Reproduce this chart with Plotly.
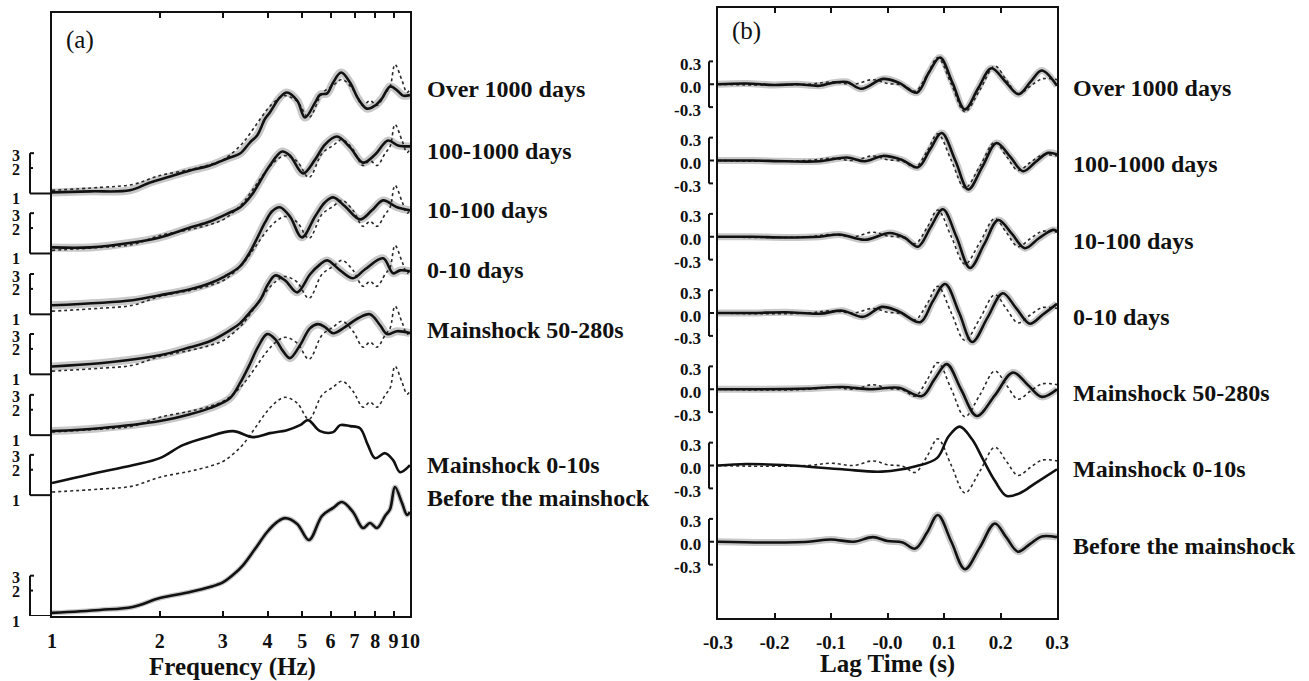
import math
import plotly.graph_objects as go

W, H = 1309, 681

LABELS = ["Over 1000 days", "100-1000 days", "10-100 days", "0-10 days",
          "Mainshock 50-280s", "Mainshock 0-10s", "Before the mainshock"]

# ---------------- Panel (a): spectral ratios (frequency in Hz, amplitude) ----------------
FREQ_OVER_1000 = [1.00, 1.28, 1.65, 1.88, 2.14, 2.43, 2.76, 3.14, 3.35, 3.57, 3.74, 3.94, 4.06, 4.33, 4.53,
                  4.84, 5.09, 5.43, 5.61, 5.87, 6.10, 6.42, 6.80, 7.16, 7.58, 7.99, 8.35, 8.80, 9.20, 9.56, 10.0]
AMP_OVER_1000 = [1.03, 1.06, 1.09, 1.35, 1.59, 1.87, 2.14, 2.67, 2.97, 4.01, 4.86, 7.72, 9.09, 13.7, 15.7,
                 12.6, 7.93, 11.9, 14.8, 15.3, 20.6, 27.0, 20.6, 13.3, 10.1, 11.0, 13.3, 18.5, 16.6, 14.4, 14.6]

FREQ_100_1000 = [1.00, 1.28, 1.68, 2.00, 2.43, 2.76, 3.14, 3.35, 3.62, 3.81, 4.06, 4.39, 4.62, 5.03, 5.43,
                 5.79, 6.25, 6.80, 7.39, 7.99, 8.68, 9.26, 10.0]
AMP_100_1000 = [1.18, 1.18, 1.35, 1.55, 2.03, 2.39, 3.06, 3.50, 4.99, 7.11, 11.0, 16.1, 14.4, 8.85, 12.9,
                19.5, 24.2, 18.0, 11.9, 14.8, 21.7, 19.0, 18.5]

FREQ_10_100 = [1.00, 1.68, 2.00, 2.43, 2.76, 3.04, 3.35, 3.57, 3.74, 3.94, 4.12, 4.33, 4.62, 4.99, 5.43,
               5.79, 6.10, 6.58, 7.25, 7.83, 8.41, 9.20, 10.0]
AMP_10_100 = [1.28, 1.47, 1.68, 1.98, 2.33, 2.82, 3.70, 5.42, 7.93, 12.3, 16.6, 18.5, 14.4, 8.15, 14.4,
              21.2, 24.2, 19.0, 13.3, 17.0, 22.3, 18.5, 17.0]

FREQ_0_10 = [1.00, 1.36, 2.00, 2.43, 2.76, 3.14, 3.35, 3.57, 3.81, 4.01, 4.20, 4.48, 4.84, 5.26, 5.61,
             5.87, 6.38, 6.93, 7.49, 8.41, 8.97, 9.38, 10.0]
AMP_0_10 = [1.24, 1.35, 1.68, 2.09, 2.46, 3.32, 4.01, 5.42, 7.51, 11.6, 14.8, 12.9, 9.34, 15.3, 20.0,
            22.3, 17.0, 13.7, 17.5, 23.6, 15.7, 17.0, 16.6]

FREQ_MS_50_280 = [1.00, 1.36, 2.00, 2.43, 2.76, 3.14, 3.35, 3.57, 3.76, 3.99, 4.20, 4.42, 4.62, 4.93, 5.26,
                  5.53, 5.79, 6.10, 6.58, 7.16, 7.73, 8.25, 8.63, 9.20, 10.0]
AMP_MS_50_280 = [1.12, 1.21, 1.47, 1.77, 2.09, 2.74, 4.12, 6.94, 11.0, 15.7, 13.7, 9.86, 8.15, 11.6, 18.5,
                 20.6, 19.0, 16.1, 19.0, 24.2, 27.0, 20.0, 15.7, 17.0, 16.1]

FREQ_MS_0_10 = [1.00, 1.28, 1.68, 2.00, 2.32, 2.71, 3.20, 3.64, 4.06, 4.53, 4.93, 5.19, 5.61, 6.10, 6.38,
                6.80, 7.25, 7.63, 7.99, 8.52, 8.97, 9.38, 10.0]
AMP_MS_0_10 = [1.39, 1.77, 2.26, 2.74, 3.91, 4.86, 5.72, 4.86, 5.42, 5.88, 6.74, 7.72, 5.72, 5.57, 6.74,
               6.56, 6.21, 3.91, 2.74, 3.14, 2.60, 1.87, 2.26]

FREQ_BEFORE = [1.00, 1.36, 1.68, 2.00, 2.43, 2.76, 3.00, 3.20, 3.42, 3.69, 3.99, 4.25, 4.48, 4.84, 5.22,
               5.68, 6.10, 6.46, 6.93, 7.39, 7.73, 8.09, 8.52, 8.80, 9.08, 9.50, 9.81, 10.0]
AMP_BEFORE = [1.09, 1.18, 1.28, 1.63, 1.92, 2.20, 2.50, 3.05, 4.01, 6.21, 9.86, 12.9, 14.4, 12.3, 7.93,
              15.3, 19.0, 22.3, 17.0, 11.0, 12.6, 11.0, 15.3, 18.5, 33.6, 21.7, 15.7, 17.0]

FREQ_TICKS = [1, 2, 3, 4, 5, 6, 7, 8, 9, 10]
AMP_SCALE_TICKS = [1, 2, 3]

# ---------------- Panel (b): cross-correlation waveforms (lag time s, amplitude) ----------------
LAG_OVER_1000 = [-0.30, -0.25, -0.20, -0.16, -0.12, -0.096, -0.072, -0.046, -0.008, 0.02, 0.052, 0.073,
                 0.093, 0.115, 0.137, 0.16, 0.184, 0.208, 0.232, 0.253, 0.273, 0.30]
WAVE_OVER_1000 = [0.00, 0.01, -0.01, 0.00, -0.02, 0.02, 0.03, -0.06, 0.07, 0.02, -0.11, 0.15,
                  0.35, 0.02, -0.33, -0.06, 0.21, 0.04, -0.13, 0.03, 0.18, -0.02]

LAG_100_1000 = [-0.30, -0.24, -0.18, -0.12, -0.072, -0.04, -0.008, 0.025, 0.054, 0.075, 0.096, 0.12,
                0.143, 0.168, 0.193, 0.217, 0.240, 0.262, 0.284, 0.30]
WAVE_100_1000 = [0.00, 0.00, -0.01, -0.01, 0.04, -0.01, 0.06, 0.01, -0.09, 0.14, 0.36, 0.00,
                 -0.38, -0.08, 0.23, 0.05, -0.14, -0.02, 0.10, 0.08]

LAG_10_100 = [-0.30, -0.24, -0.18, -0.12, -0.085, -0.04, 0.004, 0.03, 0.054, 0.076, 0.098, 0.122,
              0.146, 0.171, 0.196, 0.22, 0.243, 0.268, 0.293, 0.30]
WAVE_10_100 = [0.00, 0.00, -0.01, 0.00, 0.03, -0.04, 0.05, -0.01, -0.13, 0.12, 0.36, 0.00,
               -0.41, -0.10, 0.22, 0.04, -0.15, -0.02, 0.09, 0.07]

LAG_0_10 = [-0.30, -0.24, -0.18, -0.12, -0.08, -0.043, -0.01, 0.02, 0.058, 0.08, 0.102, 0.127,
            0.150, 0.177, 0.204, 0.228, 0.252, 0.275, 0.30]
WAVE_0_10 = [0.00, 0.00, 0.01, -0.01, 0.03, -0.05, 0.08, 0.02, -0.12, 0.15, 0.38, 0.00,
             -0.38, -0.06, 0.26, 0.06, -0.14, -0.02, 0.12]

LAG_MS_50_280 = [-0.30, -0.22, -0.14, -0.08, -0.03, 0.02, 0.061, 0.083, 0.105, 0.13, 0.158, 0.19,
                 0.222, 0.248, 0.273, 0.30]
WAVE_MS_50_280 = [0.00, 0.00, 0.01, 0.03, 0.00, 0.02, -0.09, 0.13, 0.33, 0.00, -0.35, -0.08,
                  0.22, 0.06, -0.10, 0.00]

LAG_MS_0_10 = [-0.30, -0.25, -0.17, -0.08, -0.01, 0.05, 0.088, 0.108, 0.128, 0.15, 0.169, 0.19,
               0.211, 0.235, 0.26, 0.30]
WAVE_MS_0_10 = [0.00, 0.02, 0.00, -0.05, -0.08, -0.01, 0.10, 0.38, 0.51, 0.34, 0.08, -0.20,
                -0.40, -0.36, -0.24, -0.05]

LAG_BEFORE = [-0.30, -0.22, -0.14, -0.10, -0.06, -0.026, 0.0, 0.027, 0.049, 0.07, 0.089, 0.113,
              0.137, 0.163, 0.190, 0.21, 0.231, 0.252, 0.273, 0.30]
WAVE_BEFORE = [0.00, -0.01, 0.00, 0.03, 0.00, 0.06, 0.01, -0.01, -0.09, 0.12, 0.35, 0.00,
               -0.36, -0.08, 0.24, 0.06, -0.13, -0.03, 0.07, 0.06]

LAG_TICKS = [-0.3, -0.2, -0.1, 0.0, 0.1, 0.2, 0.3]
LAG_TICK_TEXT = ["-0.3", "-0.2", "-0.1", "-0.0", "0.1", "0.2", "0.3"]
WAVE_SCALE_TICKS = [0.3, 0.0, -0.3]
WAVE_SCALE_TEXT = ["0.3", "0.0", "-0.3"]

SPECTRA = [(FREQ_OVER_1000, AMP_OVER_1000), (FREQ_100_1000, AMP_100_1000), (FREQ_10_100, AMP_10_100),
           (FREQ_0_10, AMP_0_10), (FREQ_MS_50_280, AMP_MS_50_280), (FREQ_MS_0_10, AMP_MS_0_10),
           (FREQ_BEFORE, AMP_BEFORE)]
WAVES = [(LAG_OVER_1000, WAVE_OVER_1000), (LAG_100_1000, WAVE_100_1000), (LAG_10_100, WAVE_10_100),
         (LAG_0_10, WAVE_0_10), (LAG_MS_50_280, WAVE_MS_50_280), (LAG_MS_0_10, WAVE_MS_0_10),
         (LAG_BEFORE, WAVE_BEFORE)]

# ---------------- layout constants ----------------
OFFSET_A = [5.0, 4.29, 3.57, 2.86, 2.14, 1.43, 0.0]   # stacking offsets (decades)
OFFSET_B = [7, 6, 5, 4, 3, 2, 1]                     # stacking offsets (units)
GRAY_A = [True, True, True, True, True, False, True]
GRAY_B = [True, True, True, True, True, False, True]

FONT = "Liberation Serif"
BLACK = "#111111"
GRAY = "#c8c8c8"
DOT = "#2a2a2a"


def px(x):
    return x / W


def py(y):
    return 1 - y / H


fig = go.Figure()

# panel (a) traces
for layer in ("gray", "dot", "solid"):
    for i, (f, a) in enumerate(SPECTRA):
        scale = 10 ** OFFSET_A[i]
        if layer == "gray" and GRAY_A[i]:
            fig.add_trace(go.Scatter(x=f, y=[v * scale for v in a], mode="lines", xaxis="x", yaxis="y",
                                     line=dict(color=GRAY, width=8 if i < 6 else 5, shape="spline"),
                                     hoverinfo="skip", showlegend=False))
        elif layer == "dot" and i < 6:
            fig.add_trace(go.Scatter(x=FREQ_BEFORE, y=[v * scale for v in AMP_BEFORE], mode="lines",
                                     xaxis="x", yaxis="y",
                                     line=dict(color=DOT, width=1.6, dash="dot", shape="spline"),
                                     hoverinfo="skip", showlegend=False))
        elif layer == "solid":
            fig.add_trace(go.Scatter(x=f, y=[v * scale for v in a], mode="lines", xaxis="x", yaxis="y",
                                     line=dict(color=BLACK, width=2.6, shape="spline"),
                                     name=LABELS[i], showlegend=False))

# panel (b) traces
for layer in ("gray", "dot", "solid"):
    for i, (t, a) in enumerate(WAVES):
        off = OFFSET_B[i]
        if layer == "gray" and GRAY_B[i]:
            fig.add_trace(go.Scatter(x=t, y=[v + off for v in a], mode="lines", xaxis="x2", yaxis="y2",
                                     line=dict(color=GRAY, width=7, shape="spline"),
                                     hoverinfo="skip", showlegend=False))
        elif layer == "dot" and i < 6:
            fig.add_trace(go.Scatter(x=LAG_BEFORE, y=[v + off for v in WAVE_BEFORE], mode="lines",
                                     xaxis="x2", yaxis="y2",
                                     line=dict(color=DOT, width=1.6, dash="dot", shape="spline"),
                                     hoverinfo="skip", showlegend=False))
        elif layer == "solid":
            fig.add_trace(go.Scatter(x=t, y=[v + off for v in a], mode="lines", xaxis="x2", yaxis="y2",
                                     line=dict(color=BLACK, width=2.6, shape="spline"),
                                     name=LABELS[i], showlegend=False))

shapes = []
annotations = []
line_style = dict(color=BLACK, width=2)

# scale bars, panel (a)  (shape coordinates are data values on the log axis)
for off in OFFSET_A:
    s = 10 ** off
    y1, y2, y3 = 1 * s, 2 * s, 3 * s
    shapes += [
        dict(type="line", xref="paper", yref="y", x0=px(30), x1=px(30), y0=y1, y1=y3, line=line_style),
        dict(type="line", xref="paper", yref="y", x0=px(30), x1=px(34), y0=y3, y1=y3, line=line_style),
        dict(type="line", xref="paper", yref="y", x0=px(30), x1=px(33), y0=y2, y1=y2, line=line_style),
        dict(type="line", xref="paper", yref="y", x0=px(30), x1=px(52), y0=y1, y1=y1, line=line_style),
    ]
    for v, ys in zip(AMP_SCALE_TICKS, [-5, -1, -2]):
        annotations.append(dict(xref="paper", yref="y", x=px(16), y=off + math.log10(v), text=str(v),
                                showarrow=False, xanchor="center", yanchor="middle", yshift=ys,
                                font=dict(family=FONT, size=16, color=BLACK, weight="bold")))

# scale bars, panel (b)
for off in OFFSET_B:
    shapes += [
        dict(type="line", xref="paper", yref="y2", x0=px(709), x1=px(709), y0=off - 0.3, y1=off + 0.3, line=line_style),
        dict(type="line", xref="paper", yref="y2", x0=px(709), x1=px(713), y0=off + 0.3, y1=off + 0.3, line=line_style),
        dict(type="line", xref="paper", yref="y2", x0=px(709), x1=px(713), y0=off - 0.3, y1=off - 0.3, line=line_style),
        dict(type="line", xref="paper", yref="y2", x0=px(709), x1=px(714), y0=off, y1=off, line=line_style),
    ]
    for v, txt in zip(WAVE_SCALE_TICKS, WAVE_SCALE_TEXT):
        annotations.append(dict(xref="paper", yref="y2", x=px(703), y=off + v, text=txt,
                                showarrow=False, xanchor="right", yanchor="middle", yshift=-3,
                                font=dict(family=FONT, size=17, color=BLACK, weight="bold")))

# right-hand labels
LABEL_Y_A = [89, 151, 210, 270, 330, 465, 498]
LABEL_Y_B = [88, 164, 241, 317, 393, 469, 546]
for lab, ya, yb in zip(LABELS, LABEL_Y_A, LABEL_Y_B):
    for xx, yy in ((425, ya), (1071, yb)):
        annotations.append(dict(xref="paper", yref="paper", x=px(xx), y=py(yy), text=lab, showarrow=False,
                                xanchor="left", yanchor="middle",
                                font=dict(family=FONT, size=24, color=BLACK, weight="bold")))

# panel tags and axis titles
annotations += [
    dict(xref="paper", yref="paper", x=px(80), y=py(40), text="(a)", showarrow=False,
         xanchor="center", yanchor="middle", font=dict(family=FONT, size=25, color=BLACK)),
    dict(xref="paper", yref="paper", x=px(746), y=py(31), text="(b)", showarrow=False,
         xanchor="center", yanchor="middle", font=dict(family=FONT, size=25, color=BLACK)),
    dict(xref="paper", yref="paper", x=px(232), y=py(667), text="Frequency (Hz)", showarrow=False,
         xanchor="center", yanchor="middle", font=dict(family=FONT, size=25, color=BLACK, weight="bold")),
    dict(xref="paper", yref="paper", x=px(887), y=py(664), text="Lag Time (s)", showarrow=False,
         xanchor="center", yanchor="middle", font=dict(family=FONT, size=25, color=BLACK, weight="bold")),
]

axis_common = dict(showgrid=False, zeroline=False, showline=True, linecolor=BLACK, linewidth=2,
                   automargin=False)

fig.update_layout(
    width=W, height=H,
    margin=dict(l=0, r=0, t=0, b=0),
    paper_bgcolor="white", plot_bgcolor="white",
    showlegend=False,
    xaxis=dict(domain=[px(52), px(410)], type="log", range=[0, 1], anchor="y",
               tickvals=FREQ_TICKS, ticktext=[str(v) for v in FREQ_TICKS], tickangle=0,
               ticks="inside", ticklen=5, tickwidth=1.5, tickcolor=BLACK, mirror="allticks",
               ticklabelstandoff=6,
               tickfont=dict(family=FONT, size=20, color=BLACK, weight="bold"), **axis_common),
    yaxis=dict(domain=[py(616), py(13)], type="log", range=[0, 7.136], anchor="x",
               showticklabels=False, ticks="", mirror=True, **axis_common),
    xaxis2=dict(domain=[px(718), px(1057)], range=[-0.3, 0.3], anchor="y2",
                tickvals=LAG_TICKS, ticktext=LAG_TICK_TEXT, tickangle=0,
                ticks="inside", ticklen=5, tickwidth=1.5, tickcolor=BLACK, mirror="allticks",
                ticklabelstandoff=6,
                tickfont=dict(family=FONT, size=19, color=BLACK, weight="bold"), **axis_common),
    yaxis2=dict(domain=[py(618), py(8)], range=[0, 8], anchor="x2",
                showticklabels=False, ticks="", mirror=True, **axis_common),
    shapes=shapes,
    annotations=annotations,
)

fig.write_html("out.html")
